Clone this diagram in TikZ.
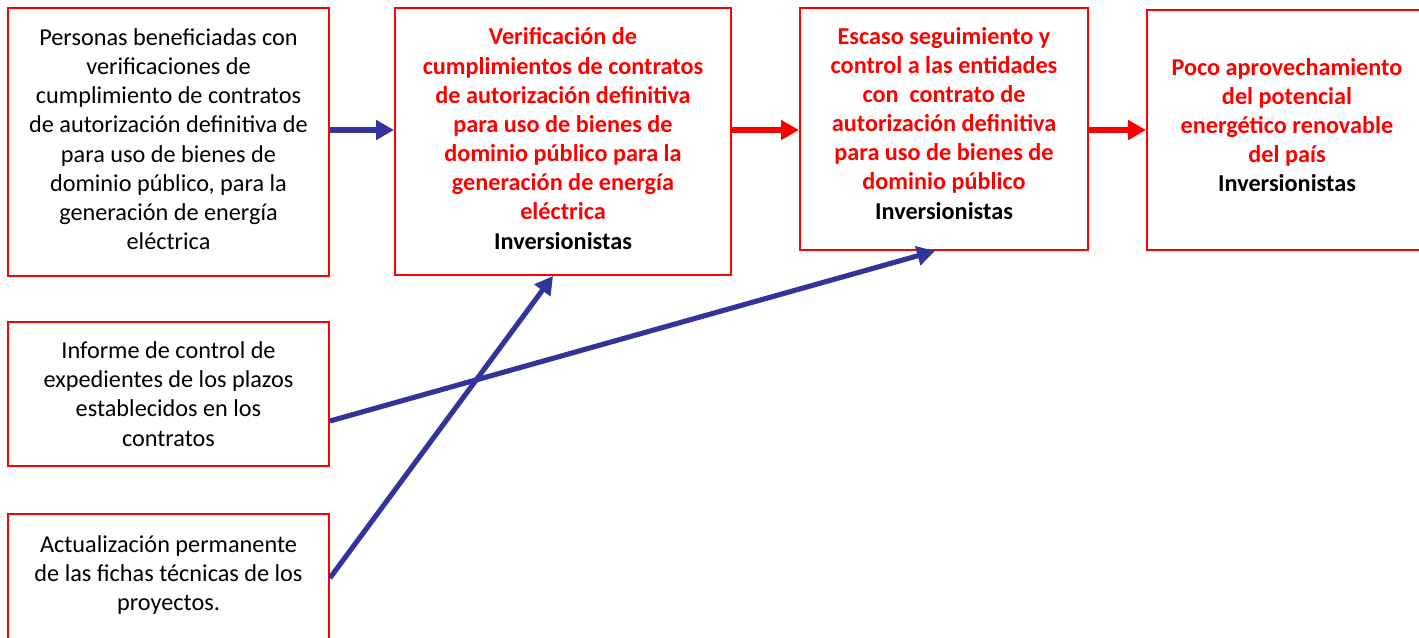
\documentclass[tikz,border=0pt]{standalone}
\usepackage{fontspec}
\setmainfont{Carlito}
\usepackage{xcolor}
\definecolor{primary}{RGB}{255,0,0}
\definecolor{navy}{RGB}{51,51,153}
\usetikzlibrary{arrows.meta,calc}

\begin{document}
\begin{tikzpicture}[x=0.02cm, y=-0.02cm,
        box/.style={rectangle, draw=primary, line width=1.1pt, fill=white, align=center, font=\fontsize{13.8}{16.6}\selectfont, inner sep=2pt},
        arrow/.style={-{Triangle[length=0.36cm, width=0.38cm]}, line width=2.9pt, color=#1},
        arrow/.default=navy
    ]
        \useasboundingbox (0,0) rectangle (1419,637);
        \clip (0,0) rectangle (1419,637);

        \node[box, minimum width=6.42cm, minimum height=5.36cm] (personas) at (168.5, 142) {Personas beneficiadas con\\ verificaciones de\\ cumplimiento de contratos\\ de autorización definitiva de\\ para uso de bienes de\\ dominio público, para la\\ generación de energía\\ eléctrica\\[-13.2pt]};
        \node[box, minimum width=6.72cm, minimum height=5.34cm] (verif) at (563, 141.5) {{\color{primary}\bfseries Verificación de}\\ {\color{primary}\bfseries cumplimientos de contratos}\\ {\color{primary}\bfseries de autorización definitiva}\\ {\color{primary}\bfseries para uso de bienes de}\\ {\color{primary}\bfseries dominio público para la}\\ {\color{primary}\bfseries generación de energía}\\ {\color{primary}\bfseries eléctrica}\\ \textbf{Inversionistas}\\[-13.2pt]};
        \node[box, minimum width=5.76cm, minimum height=4.84cm] (escaso) at (944, 129) {{\color{primary}\bfseries Escaso seguimiento y}\\ {\color{primary}\bfseries control a las entidades}\\ {\color{primary}\bfseries con\ \ contrato de}\\ {\color{primary}\bfseries autorización definitiva}\\ {\color{primary}\bfseries para uso de bienes de}\\ {\color{primary}\bfseries dominio público}\\ \textbf{Inversionistas}\\[-9.8pt]};
        \node[box, minimum width=5.6cm, minimum height=4.8cm] (poco) at (1287, 130) {{\color{primary}\bfseries Poco aprovechamiento}\\ {\color{primary}\bfseries del potencial}\\ {\color{primary}\bfseries energético renovable}\\ {\color{primary}\bfseries del país}\\ \textbf{Inversionistas}\\[-10.9pt]};
        \node[box, minimum width=6.42cm, minimum height=2.88cm] (informe) at (168.5, 394) {Informe de control de\\ expedientes de los plazos\\ establecidos en los\\ contratos};
        \node[box, minimum width=6.42cm, minimum height=2.6cm] (fichas) at (168.5, 579) {Actualización permanente\\ de las fichas técnicas de los\\ proyectos.\\[-9.8pt]};

        \draw[arrow] ($(personas.east)+(0,-12)$) -- ($(verif.west)+(0,-11.5)$);
        \draw[arrow=primary] ($(verif.east)+(0,-11.5)$) -- ($(escaso.west)+(0,1)$);
        \draw[arrow=primary] ($(escaso.east)+(0,1)$) -- (poco.west);
        \draw[arrow] ($(informe.east)+(0,27)$) -- ($(escaso.south)+(-9,0)$);
        \draw[arrow] ($(fichas.east)+(0,-1)$) -- ($(verif.south)+(-10,0)$);
    \end{tikzpicture}
\end{document}
